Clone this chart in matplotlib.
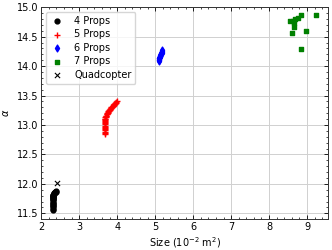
import numpy as np
import matplotlib
matplotlib.use("Agg")
import matplotlib.pyplot as plt
from matplotlib.ticker import AutoMinorLocator

# data (size in 1e-2 m^2, alpha)
size_4 = [2.30, 2.30, 2.30, 2.30, 2.30, 2.30, 2.30, 2.30, 2.30, 2.30, 2.30, 2.30, 2.31, 2.31, 2.31,
          2.31, 2.32, 2.32, 2.33, 2.34, 2.35, 2.36, 2.37, 2.38, 2.39]
alpha_4 = [11.56, 11.58, 11.60, 11.62, 11.64, 11.66, 11.68, 11.70, 11.72, 11.74, 11.75, 11.76, 11.77,
           11.78, 11.79, 11.80, 11.81, 11.82, 11.83, 11.84, 11.85, 11.86, 11.87, 11.87, 11.88]

size_5 = [3.67, 3.67, 3.67, 3.67, 3.67, 3.67, 3.67, 3.67, 3.67, 3.67, 3.67, 3.68, 3.68, 3.68, 3.69,
          3.69, 3.70, 3.70, 3.71, 3.72, 3.73, 3.74, 3.75, 3.76, 3.77, 3.78, 3.79, 3.80, 3.82, 3.83,
          3.85, 3.86, 3.88, 3.89, 3.91, 3.92, 3.94, 3.95, 3.97, 3.98, 4.00]
alpha_5 = [12.85, 12.87, 12.89, 12.91, 12.93, 12.95, 12.97, 12.99, 13.01, 13.03, 13.05, 13.07, 13.08,
           13.10, 13.11, 13.13, 13.14, 13.15, 13.16, 13.18, 13.19, 13.20, 13.21, 13.22, 13.23, 13.24,
           13.25, 13.26, 13.28, 13.29, 13.30, 13.31, 13.32, 13.33, 13.34, 13.35, 13.36, 13.37, 13.38,
           13.39, 13.41]

size_6 = [5.10, 5.10, 5.10, 5.11, 5.11, 5.11, 5.12, 5.12, 5.13, 5.13, 5.14, 5.15, 5.15, 5.16, 5.17,
          5.17, 5.18, 5.19]
alpha_6 = [14.09, 14.10, 14.11, 14.12, 14.13, 14.14, 14.15, 14.16, 14.17, 14.18, 14.19, 14.20, 14.21,
           14.22, 14.23, 14.24, 14.25, 14.27]

size_7 = [8.54, 8.62, 8.69, 8.75, 8.84, 9.24, 8.66, 8.66, 8.61, 8.96, 8.84]
alpha_7 = [14.77, 14.77, 14.80, 14.82, 14.86, 14.87, 14.73, 14.67, 14.57, 14.60, 14.29]

size_quad = [2.41]
alpha_quad = [12.02]

fig = plt.figure(figsize=(3.32, 2.5), dpi=100)
ax = fig.add_axes([0.124, 0.123, 0.865, 0.848])

ax.scatter(size_4, alpha_4, marker="o", color="black", s=12, label="4 Props", zorder=3)
ax.scatter(size_5, alpha_5, marker="+", color="red", s=22, linewidths=1.0, label="5 Props", zorder=3)
ax.scatter(size_6, alpha_6, marker="d", color="blue", s=12, label="6 Props", zorder=3)
ax.scatter(size_7, alpha_7, marker="s", color="green", s=12, label="7 Props", zorder=3)
ax.scatter(size_quad, alpha_quad, marker="x", color="black", s=14, linewidths=0.8, label="Quadcopter", zorder=3)

ax.set_xlim(2, 9.56)
ax.set_ylim(11.4, 15.0)
ax.set_xlabel("Size ($10^{-2}$ m$^2$)", fontsize=7, labelpad=2)
ax.set_ylabel(r"$\alpha$", fontsize=7, labelpad=4)

ax.xaxis.set_minor_locator(AutoMinorLocator(5))
ax.yaxis.set_minor_locator(AutoMinorLocator(5))
ax.tick_params(which="both", direction="in", top=True, right=True, labelsize=7)
ax.tick_params(which="major", length=3, width=0.6, pad=2)
ax.tick_params(which="minor", length=1.5, width=0.5)
ax.grid(which="major", color="#d0d0d0", linewidth=0.7, zorder=0)
ax.set_axisbelow(True)
for sp in ax.spines.values():
    sp.set_linewidth(0.7)
    sp.set_color("#333333")

ax.legend(loc="upper left", fontsize=7, frameon=True, framealpha=0.8, edgecolor="#cccccc",
          borderpad=0.4, handletextpad=1.0, labelspacing=0.35, handlelength=1.5)

fig.savefig("out.png", dpi=100)
